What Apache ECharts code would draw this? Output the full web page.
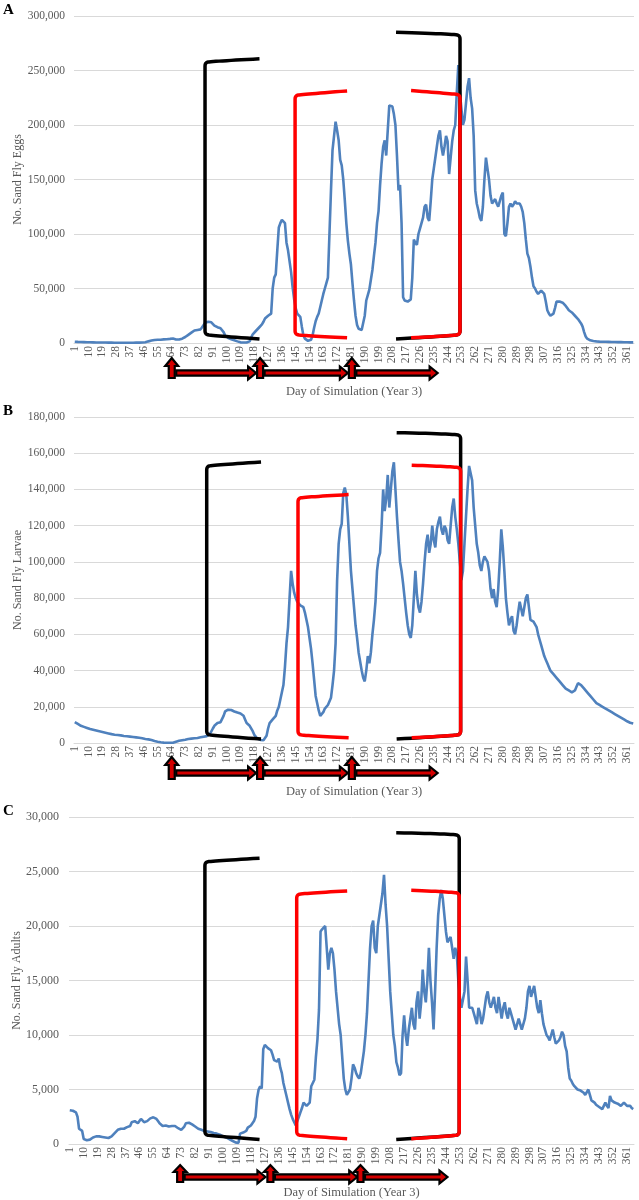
<!DOCTYPE html>
<html><head><meta charset="utf-8">
<script src="https://cdn.jsdelivr.net/npm/echarts@6/dist/echarts.min.js"></script>
<style>html,body{margin:0;padding:0;background:#fff}#main{width:639px;height:1200px}</style>
</head><body><div id="main"></div>
<script>
// ---------------- data ----------------
const days = [];
for (let d = 1; d <= 365; d++) days.push(String(d));

const eggs = [
1200,1100,1000,1000,900,900,800,800,700,700,
700,600,600,600,500,500,500,400,400,400,
400,300,300,300,300,300,200,200,200,200,
200,200,200,200,200,200,200,200,200,200,
300,300,300,300,400,500,700,1000,1500,2000,
2200,2500,2800,3000,3000,2800,3000,3200,3300,3400,
3500,3600,3800,4000,4200,3800,3200,3000,3200,3500,
4000,5000,5500,6000,7500,9000,9500,10500,11500,12000,
12000,12000,12500,13500,16500,18500,19500,19500,19500,19000,
18000,16000,15000,14500,14000,13500,12000,10000,7000,5500,
4500,4000,3500,3000,2500,2000,1500,1000,600,500,
500,500,500,500,1500,5000,8000,9500,11000,12500,
14000,15000,17000,19500,22500,24000,25000,25500,27000,50000,
60000,63000,85000,106000,110000,113000,114000,110000,92000,85000,
84000,65000,51000,40000,32000,27000,26000,24000,15000,7000,
4000,2500,2000,2000,3000,7000,14000,20000,24000,27000,
33000,39000,45000,50000,55000,60000,100000,140000,177000,190000,
203000,195000,186000,168000,163000,150000,131000,110000,94000,82000,
72000,55000,39000,25000,16500,13000,12000,12000,12000,25000,
39000,44000,49000,58000,67000,80000,92000,110000,121000,145000,
165000,180000,186000,172000,195000,218000,218000,217000,210000,200000,
172000,140000,145000,110000,42000,39000,38000,38000,38000,40000,
60000,95000,92000,90000,100000,105000,110000,115000,125000,127000,
115000,112000,130000,150000,160000,170000,180000,190000,195000,180000,
172000,180000,190000,185000,155000,170000,185000,195000,200000,230000,
255000,230000,215000,200000,205000,220000,235000,243000,225000,215000,
190000,140000,128000,122000,115000,112000,125000,150000,170000,160000,
150000,135000,128000,130000,132000,128000,125000,130000,135000,138000,
100000,98000,110000,125000,128000,125000,127000,130000,128000,128000,
128000,125000,120000,110000,95000,82000,78000,70000,60000,52000,
50000,47000,45000,46000,48000,47000,45000,38000,30000,27000,
25000,25000,27000,32000,38000,39000,38000,37000,37000,36000,
34000,32000,30000,29000,28000,27000,25000,24000,22000,20000,
18000,15000,10000,6000,4000,3000,2500,2000,1800,1500,
1500,1400,1300,1200,1200,1100,1100,1000,1000,1000,
900,900,900,800,800,800,800,700,700,700,
700,600,600,600,600
];

const larvae = [
11500,11000,10500,10000,9500,9200,8900,8600,8300,8000,
7700,7500,7300,7100,6900,6700,6500,6300,6100,5900,
5700,5500,5300,5100,4900,4700,4600,4500,4400,4300,
4200,4000,3900,3800,3700,3600,3500,3400,3300,3200,
3100,3000,2900,2800,2600,2400,2200,2100,2000,1800,
1600,1400,1100,900,700,500,400,300,200,200,
100,100,100,100,100,300,700,1000,1200,1400,
1500,1600,1800,2000,2200,2300,2400,2500,2600,2700,
2800,3000,3200,3400,3500,3600,3800,4200,4800,5500,
8000,9500,10500,11000,11200,11500,12000,15000,17400,18000,
18400,18400,18200,18000,17400,17000,16800,16500,16300,16000,
15000,13000,11000,10000,9500,9000,6500,4500,3500,2500,
2000,1700,1500,1500,1600,4000,8000,11000,12000,13000,
14000,15000,18000,20000,24000,28000,32000,42000,55000,64000,
80000,95000,88000,83000,80000,78000,77000,76000,77000,75000,
72000,68000,64000,58000,52000,44000,35000,26000,22000,18000,
15000,14000,17000,19000,20000,21000,22000,25000,32000,40000,
55000,90000,110000,118000,121000,138000,141000,137000,125000,110000,
95000,85000,75000,65000,58000,50000,45000,40000,36000,34000,
40000,48000,44000,50000,60000,68000,78000,95000,102000,105000,
120000,140000,128000,135000,148000,130000,140000,150000,155000,140000,
125000,112000,100000,95000,88000,80000,72000,65000,60000,58000,
65000,80000,95000,82000,75000,72000,78000,88000,100000,110000,
115000,105000,110000,120000,112000,108000,118000,122000,125000,118000,
115000,120000,118000,112000,110000,120000,130000,135000,125000,118000,
110000,100000,90000,95000,110000,125000,140000,153000,152000,145000,
130000,120000,110000,105000,98000,95000,100000,103000,104000,100000,
95000,85000,80000,85000,78000,75000,85000,100000,118000,108000,
95000,80000,72000,65000,68000,70000,62000,60000,65000,72000,
78000,74000,70000,75000,80000,82000,75000,68000,67000,67000,
66000,64000,60000,57000,54000,51000,48000,46000,44000,42000,
40000,39000,38000,37000,36000,35000,34000,33000,32000,31000,
30000,30000,29000,28000,28000,28000,29000,31000,33000,34000,
32000,31000,30000,29000,28000,27000,26000,25000,24000,23000,
22000,21500,21000,20500,20000,19500,19000,18500,18000,17500,
17000,16500,16000,15500,15000,14500,14000,13500,13000,12500,
12000,11500,11200,11000,10800
];

const adults = [
3100,3100,3050,3050,2900,2500,1400,1250,1200,450,
400,350,350,400,500,600,700,700,700,700,
700,650,650,600,600,550,500,700,850,1000,
1100,1300,1400,1400,1400,1400,1500,1550,1600,1650,
2000,2050,2100,2000,1900,2100,2300,2150,2000,2050,
2100,2200,2350,2400,2450,2500,2300,2100,1900,1800,
1650,1600,1700,1700,1600,1550,1650,1800,1650,1500,
1450,1350,1300,1450,1600,1900,2050,1950,1850,1800,
1700,1600,1500,1400,1300,1300,1250,1200,1200,1150,
1100,1100,1050,1000,1000,950,900,850,800,700,
650,600,500,450,400,300,200,150,50,100,
950,1000,1050,1100,1200,1500,1600,1700,1850,2100,
2500,4200,5000,5300,5100,8700,9100,9000,8800,8700,
8600,8200,7700,7600,7550,7850,7000,6500,5600,5000,
4400,3800,3200,2700,2300,2000,1700,2100,2500,2900,
3300,3800,3700,3500,3600,3800,5300,5400,5900,8000,
9600,12300,19500,19700,19800,20000,18000,16000,17500,18000,
17500,16000,14000,12500,11000,10000,8000,6000,5000,4500,
4500,5000,6000,7300,7000,6500,6200,6000,6500,7500,
8500,10000,12000,15000,18000,20000,20500,18000,17500,20000,
21000,22000,23000,24700,22000,20000,17000,14000,12000,10000,
9000,7500,7000,6300,6500,10000,11800,10000,9000,10500,
11500,12500,11000,10500,13000,14000,11500,13000,16000,14000,
13000,15000,18000,15000,13000,10500,14000,18000,21000,22500,
23300,22500,21000,19500,18500,18500,19000,18000,17000,18000,
17500,15000,13500,12500,12500,14000,17200,15000,12500,12500,
12500,12000,11500,11000,12500,12000,11000,11500,12500,13500,
14000,13000,12500,13000,13500,12500,12000,13500,12500,11500,
12500,13000,12000,11500,12500,12000,11500,11000,10500,11000,
11500,11000,10500,11000,11500,12500,14000,14500,13500,14000,
14500,13500,12500,12000,13200,12000,11000,10500,10000,9800,
9500,10000,10500,9800,9200,9300,9500,9800,10300,10000,
9000,8500,7000,6000,5800,5500,5300,5200,5000,5000,
4900,4800,4700,4500,4600,5000,4500,4000,3900,3800,
3600,3500,3400,3300,3200,3300,3800,3500,3300,4400,
4000,3900,3800,3800,3700,3600,3500,3600,3800,3700,
3500,3400,3500,3300,3200
];

const seriesData = [eggs, larvae, adults];
const yNames = ['No. Sand Fly Eggs', 'No. Sand Fly Larvae', 'No. Sand Fly Adults'];
const yMax = [300000, 180000, 30000];
const yStep = [50000, 20000, 5000];
const xTitle = 'Day of Simulation (Year 3)';
const panelLetters = ['A', 'B', 'C'];

// annotation anchors (days) per panel
const bracketDays = [
  {bl: 85.9, blEnd: 121.4, rl: 144.6, rlEnd: 178.5, brStart: 210.4, rrStart: 220.2, rv: 252.1},
  {bl: 87.0, blEnd: 122.4, rl: 146.5, rlEnd: 179.5, brStart: 210.8, rrStart: 220.6, rv: 252.5},
  {bl: 88.3, blEnd: 123.6, rl: 147.6, rlEnd: 180.2, brStart: 211.9, rrStart: 221.6, rv: 252.6}
];
// vertical anchors as fraction of the y range
const bracketFrac = [
  {bTop: .859, bTopEnd: .869, bBot: .025, bBotEnd: .012, rTop: .758, rTopEnd: .771, rBot: .025, rBotEnd: .016, brTop: .942, brTopEnd: .950, rrTop: .760, rrTopEnd: .772},
  {bTop: .850, bTopEnd: .862, bBot: .025, bBotEnd: .012, rTop: .752, rTopEnd: .762, rBot: .025, rBotEnd: .016, brTop: .945, brTopEnd: .952, rrTop: .845, rrTopEnd: .852},
  {bTop: .863, bTopEnd: .874, bBot: .027, bBotEnd: .014, rTop: .764, rTopEnd: .774, rBot: .027, rBotEnd: .016, brTop: .945, brTopEnd: .952, rrTop: .768, rrTopEnd: .776}
];
const arrowDays = [
  {ups: [64.2, 121.8, 181.6], ends: [119.2, 179.0, 237.5]},
  {ups: [64.2, 121.8, 181.6], ends: [119.2, 179.0, 237.5]},
  {ups: [72.3, 130.6, 188.8], ends: [127.4, 186.7, 245.0]}
];
// arrow offsets below the axis (px): tip, head base, shaft centre, bottom
const arrowOff = [
  {tip: 15, head: 23, shaft: 30, bottom: 35},
  {tip: 14, head: 22, shaft: 30, bottom: 36},
  {tip: 21, head: 28, shaft: 33, bottom: 38}
];

// ---------------- chart ----------------
const grids = [
  {left: 74, top: 16, width: 560, height: 327},
  {left: 74, top: 417, width: 560, height: 326},
  {left: 69, top: 817, width: 565, height: 327}
];
const FONT = 'Liberation Serif';
const GREY = '#595959';
const fmt = v => v.toLocaleString('en-US');

const chart = echarts.init(document.getElementById('main'));
const option = {
  animation: false,
  backgroundColor: '#fff',
  grid: grids,
  xAxis: grids.map((g, i) => ({
    type: 'category', gridIndex: i, data: days, boundaryGap: true,
    axisLine: {lineStyle: {color: '#D9D9D9', width: 1}},
    axisTick: {show: false},
    axisLabel: {interval: 8, rotate: 90, fontFamily: FONT, fontSize: 11.5, color: GREY, margin: 3},
    splitLine: {show: false},
    name: xTitle, nameLocation: 'middle', nameGap: 42, nameMoveOverlap: false,
    nameTextStyle: {fontFamily: FONT, fontSize: 12.5, color: GREY}
  })),
  yAxis: grids.map((g, i) => ({
    type: 'value', gridIndex: i, min: 0, max: yMax[i], interval: yStep[i],
    axisLine: {show: false}, axisTick: {show: false},
    axisLabel: {formatter: fmt, fontFamily: FONT, fontSize: i === 2 ? 12 : 11.5, color: GREY, margin: i === 2 ? 10 : 9},
    splitLine: {lineStyle: {color: '#D9D9D9', width: 1}},
    name: yNames[i], nameLocation: 'middle', nameGap: i === 2 ? 46 : 50, nameMoveOverlap: false,
    nameTextStyle: {fontFamily: FONT, fontSize: 12, color: GREY}
  })),
  series: seriesData.map((d, i) => ({
    type: 'line', xAxisIndex: i, yAxisIndex: i, data: d,
    showSymbol: false, symbol: 'none',
    lineStyle: {color: '#4F81BD', width: 2.6},
    itemStyle: {color: '#4F81BD'}, z: 2
  }))
};
chart.setOption(option);

// ---------- annotation helpers ----------
function xOf(i, day) {
  const a = chart.convertToPixel({xAxisIndex: i}, 0);
  const b = chart.convertToPixel({xAxisIndex: i}, 364);
  return a + (day - 1) * (b - a) / 364;
}
function yOf(i, frac) { return chart.convertToPixel({yAxisIndex: i}, frac * yMax[i]); }
function quad(p0, c, p1, n, out) {
  for (let k = 1; k <= n; k++) {
    const t = k / n, u = 1 - t;
    out.push([u*u*p0[0] + 2*u*t*c[0] + t*t*p1[0], u*u*p0[1] + 2*u*t*c[1] + t*t*p1[1]]);
  }
}
function bracketPts(xV, xE, yT, yTE, yB, yBE) {
  const dir = xE > xV ? 1 : -1;
  const pts = [[xE, yTE]];
  quad([xE, yTE], [xV + dir*14, yT - 1.2], [xV + dir*4, yT - 0.2], 12, pts);
  quad([xV + dir*4, yT - 0.2], [xV, yT], [xV, yT + 4], 6, pts);
  pts.push([xV, yB - 4]);
  quad([xV, yB - 4], [xV, yB], [xV + dir*4, yB + 0.2], 6, pts);
  quad([xV + dir*4, yB + 0.2], [xV + dir*14, yB + 1.2], [xE, yBE], 12, pts);
  return pts;
}
function buildGraphics() {
  const els = [];
  grids.forEach((g, i) => {
    const bd = bracketDays[i], bf = bracketFrac[i];
    const LW = 3.5;
    els.push({type: 'polyline', z: 10, silent: true,
      shape: {points: bracketPts(xOf(i, bd.bl), xOf(i, bd.blEnd), yOf(i, bf.bTop), yOf(i, bf.bTopEnd), yOf(i, bf.bBot), yOf(i, bf.bBotEnd))},
      style: {stroke: '#000', lineWidth: LW, fill: null, lineJoin: 'round'}});
    els.push({type: 'polyline', z: 10, silent: true,
      shape: {points: bracketPts(xOf(i, bd.rv), xOf(i, bd.brStart), yOf(i, bf.brTop), yOf(i, bf.brTopEnd), yOf(i, bf.bBot), yOf(i, bf.bBotEnd))},
      style: {stroke: '#000', lineWidth: LW, fill: null, lineJoin: 'round'}});
    els.push({type: 'polyline', z: 11, silent: true,
      shape: {points: bracketPts(xOf(i, bd.rl), xOf(i, bd.rlEnd), yOf(i, bf.rTop), yOf(i, bf.rTopEnd), yOf(i, bf.rBot), yOf(i, bf.rBotEnd))},
      style: {stroke: '#FF0000', lineWidth: LW, fill: null, lineJoin: 'round'}});
    els.push({type: 'polyline', z: 11, silent: true,
      shape: {points: bracketPts(xOf(i, bd.rv), xOf(i, bd.rrStart), yOf(i, bf.rrTop), yOf(i, bf.rrTopEnd), yOf(i, bf.rBot), yOf(i, bf.rBotEnd))},
      style: {stroke: '#FF0000', lineWidth: LW, fill: null, lineJoin: 'round'}});

    const ad = arrowDays[i], ao = arrowOff[i];
    const y0 = g.top + g.height;
    ad.ups.forEach((d, k) => {
      const x = xOf(i, d);
      els.push({type: 'polygon', z: 12, silent: true,
        shape: {points: [[x - 3, y0 + ao.bottom], [x + 3, y0 + ao.bottom], [x + 3, y0 + ao.head], [x + 6.5, y0 + ao.head], [x, y0 + ao.tip], [x - 6.5, y0 + ao.head], [x - 3, y0 + ao.head]]},
        style: {fill: '#D40000', stroke: '#000', lineWidth: 2.2, lineJoin: 'miter'}});
      const xs = x + 4.5, xe = xOf(i, ad.ends[k]);
      const sy = y0 + ao.shaft;
      els.push({type: 'polygon', z: 12, silent: true,
        shape: {points: [[xs, sy - 2.6], [xe - 8, sy - 2.6], [xe - 8, sy - 6.5], [xe, sy], [xe - 8, sy + 6.5], [xe - 8, sy + 2.6], [xs, sy + 2.6]]},
        style: {fill: '#D40000', stroke: '#000', lineWidth: 2.2, lineJoin: 'miter'}});
    });

    els.push({type: 'text', z: 12, silent: true, left: 3, top: g.top - 13,
      style: {text: panelLetters[i], font: 'bold 15px "Liberation Serif"', fill: '#000'}});
  });
  return els;
}
chart.setOption({graphic: {elements: buildGraphics()}});
</script>
</body></html>
